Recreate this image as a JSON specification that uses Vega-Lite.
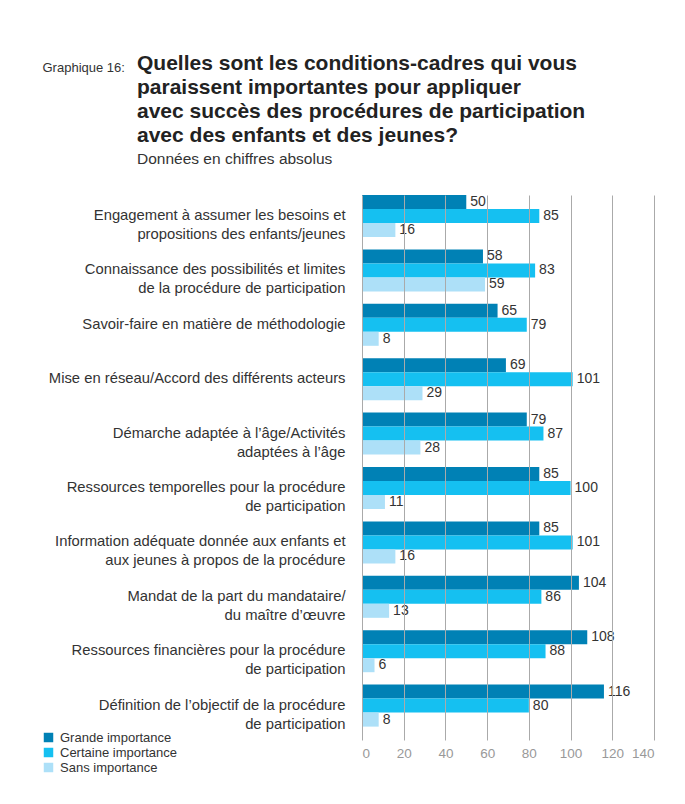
{
  "$schema": "https://vega.github.io/schema/vega-lite/v6.json",
  "autosize": {"type": "none"},
  "width": 292,
  "height": 545,
  "padding": {"top": 195, "left": 362, "right": 31, "bottom": 64},
  "background": "white",
  "title": {
    "text": ["Quelles sont les conditions-cadres qui vous", "paraissent importantes pour appliquer", "avec succès des procédures de participation", "avec des enfants et des jeunes?"],
    "subtitle": "Données en chiffres absolus",
    "anchor": "start",
    "frame": "group",
    "dx": -225,
    "dy": 134,
    "offset": 28,
    "font": "Liberation Sans",
    "fontSize": 21,
    "fontWeight": "bold",
    "color": "#222222",
    "lineHeight": 24,
    "subtitleFont": "Liberation Sans",
    "subtitleFontSize": 15.5,
    "subtitleColor": "#333333",
    "subtitlePadding": 6
  },
  "data": {
    "values": [
      {"cat": "Engagement à assumer les besoins et|propositions des enfants/jeunes", "series": "Grande importance", "value": 50},
      {"cat": "Engagement à assumer les besoins et|propositions des enfants/jeunes", "series": "Certaine importance", "value": 85},
      {"cat": "Engagement à assumer les besoins et|propositions des enfants/jeunes", "series": "Sans importance", "value": 16},
      {"cat": "Connaissance des possibilités et limites|de la procédure de participation", "series": "Grande importance", "value": 58},
      {"cat": "Connaissance des possibilités et limites|de la procédure de participation", "series": "Certaine importance", "value": 83},
      {"cat": "Connaissance des possibilités et limites|de la procédure de participation", "series": "Sans importance", "value": 59},
      {"cat": "Savoir-faire en matière de méthodologie", "series": "Grande importance", "value": 65},
      {"cat": "Savoir-faire en matière de méthodologie", "series": "Certaine importance", "value": 79},
      {"cat": "Savoir-faire en matière de méthodologie", "series": "Sans importance", "value": 8},
      {"cat": "Mise en réseau/Accord des différents acteurs", "series": "Grande importance", "value": 69},
      {"cat": "Mise en réseau/Accord des différents acteurs", "series": "Certaine importance", "value": 101},
      {"cat": "Mise en réseau/Accord des différents acteurs", "series": "Sans importance", "value": 29},
      {"cat": "Démarche adaptée à l’âge/Activités|adaptées à l’âge", "series": "Grande importance", "value": 79},
      {"cat": "Démarche adaptée à l’âge/Activités|adaptées à l’âge", "series": "Certaine importance", "value": 87},
      {"cat": "Démarche adaptée à l’âge/Activités|adaptées à l’âge", "series": "Sans importance", "value": 28},
      {"cat": "Ressources temporelles pour la procédure|de participation", "series": "Grande importance", "value": 85},
      {"cat": "Ressources temporelles pour la procédure|de participation", "series": "Certaine importance", "value": 100},
      {"cat": "Ressources temporelles pour la procédure|de participation", "series": "Sans importance", "value": 11},
      {"cat": "Information adéquate donnée aux enfants et|aux jeunes à propos de la procédure", "series": "Grande importance", "value": 85},
      {"cat": "Information adéquate donnée aux enfants et|aux jeunes à propos de la procédure", "series": "Certaine importance", "value": 101},
      {"cat": "Information adéquate donnée aux enfants et|aux jeunes à propos de la procédure", "series": "Sans importance", "value": 16},
      {"cat": "Mandat de la part du mandataire/|du maître d’œuvre", "series": "Grande importance", "value": 104},
      {"cat": "Mandat de la part du mandataire/|du maître d’œuvre", "series": "Certaine importance", "value": 86},
      {"cat": "Mandat de la part du mandataire/|du maître d’œuvre", "series": "Sans importance", "value": 13},
      {"cat": "Ressources financières pour la procédure|de participation", "series": "Grande importance", "value": 108},
      {"cat": "Ressources financières pour la procédure|de participation", "series": "Certaine importance", "value": 88},
      {"cat": "Ressources financières pour la procédure|de participation", "series": "Sans importance", "value": 6},
      {"cat": "Définition de l’objectif de la procédure|de participation", "series": "Grande importance", "value": 116},
      {"cat": "Définition de l’objectif de la procédure|de participation", "series": "Certaine importance", "value": 80},
      {"cat": "Définition de l’objectif de la procédure|de participation", "series": "Sans importance", "value": 8}
    ]
  },
  "encoding": {
    "y": {
      "field": "cat",
      "type": "nominal",
      "sort": null,
      "scale": {"paddingInner": 0.228, "paddingOuter": 0.123, "align": 0},
      "axis": {
        "title": "Graphique 16:",
        "titleAngle": 0,
        "titleAlign": "left",
        "titleBaseline": "alphabetic",
        "titleX": -320,
        "titleY": -124,
        "titleFont": "Liberation Sans",
        "titleFontSize": 13,
        "titleFontWeight": "normal",
        "titleColor": "#333333",
        "domain": false,
        "ticks": false,
        "labelPadding": 17,
        "labelFont": "Liberation Sans",
        "labelFontSize": 14.8,
        "labelColor": "#333333",
        "labelLineHeight": 19,
        "labelLimit": 0,
        "labelExpr": "split(datum.label, '|')"
      }
    },
    "yOffset": {
      "field": "series",
      "type": "nominal",
      "sort": ["Grande importance", "Certaine importance", "Sans importance"],
      "scale": {"paddingInner": 0, "paddingOuter": 0}
    },
    "x": {
      "field": "value",
      "type": "quantitative",
      "scale": {"domain": [0, 140], "nice": false},
      "axis": {
        "title": null,
        "values": [0, 20, 40, 60, 80, 100, 120, 140],
        "grid": true,
        "gridColor": "#aaaaaa",
        "gridWidth": 1,
        "domain": false,
        "ticks": false,
        "labelPadding": 6,
        "labelFont": "Liberation Sans",
        "labelFontSize": 13.5,
        "labelColor": "#999999",
        "zindex": 1
      }
    }
  },
  "layer": [
    {
      "mark": {"type": "bar", "cornerRadius": 0},
      "encoding": {
        "color": {
          "field": "series",
          "type": "nominal",
          "scale": {
            "domain": ["Grande importance", "Certaine importance", "Sans importance"],
            "range": ["#0081b5", "#15c0f1", "#ade0f8"]
          },
          "legend": {
            "title": null,
            "orient": "none",
            "legendX": -320,
            "legendY": 536,
            "symbolType": "square",
            "symbolSize": 90,
            "symbolStrokeWidth": 0,
            "symbolOpacity": 1,
            "labelFont": "Liberation Sans",
            "labelFontSize": 13,
            "labelColor": "#333333",
            "labelOffset": 5,
            "rowPadding": 1
          }
        }
      }
    },
    {
      "mark": {"type": "text", "align": "left", "baseline": "middle", "dx": 4, "font": "Liberation Sans", "fontSize": 14, "color": "#333333"},
      "encoding": {
        "text": {"field": "value", "type": "quantitative"}
      }
    }
  ],
  "config": {
    "view": {"stroke": null}
  }
}
